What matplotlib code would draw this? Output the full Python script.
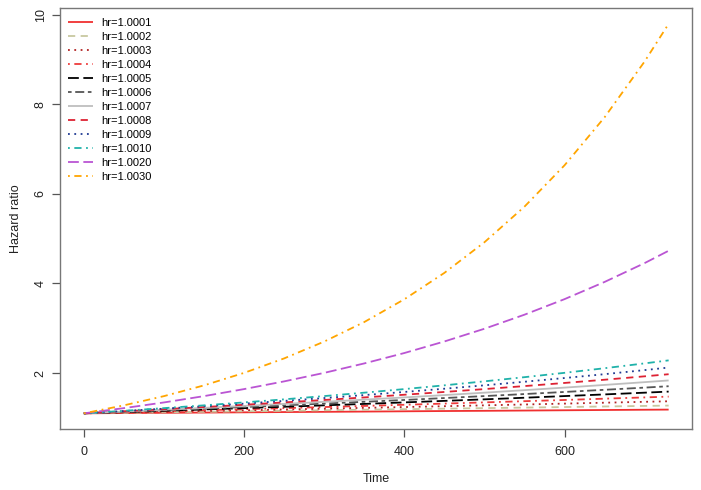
import matplotlib
matplotlib.use('Agg')
import matplotlib.pyplot as plt

# values, every 50 days
time = [0, 50, 100, 150, 200, 250, 300, 350, 400, 450, 500, 550, 600, 650, 700, 730]

hr_labels = ['hr=1.0001', 'hr=1.0002', 'hr=1.0003', 'hr=1.0004', 'hr=1.0005', 'hr=1.0006',
             'hr=1.0007', 'hr=1.0008', 'hr=1.0009', 'hr=1.0010', 'hr=1.0020', 'hr=1.0030']

hr_0001 = [1.100, 1.106, 1.111, 1.117, 1.122, 1.128, 1.133, 1.139, 1.145, 1.151, 1.156, 1.162, 1.168, 1.174, 1.180, 1.183]
hr_0002 = [1.100, 1.111, 1.122, 1.133, 1.145, 1.156, 1.168, 1.180, 1.192, 1.204, 1.216, 1.228, 1.240, 1.253, 1.265, 1.273]
hr_0003 = [1.100, 1.117, 1.133, 1.151, 1.168, 1.186, 1.204, 1.222, 1.240, 1.259, 1.278, 1.297, 1.317, 1.337, 1.357, 1.369]
hr_0004 = [1.100, 1.122, 1.145, 1.168, 1.192, 1.216, 1.240, 1.265, 1.291, 1.317, 1.344, 1.371, 1.398, 1.427, 1.455, 1.473]
hr_0005 = [1.100, 1.128, 1.156, 1.186, 1.216, 1.246, 1.278, 1.310, 1.344, 1.378, 1.412, 1.448, 1.485, 1.522, 1.561, 1.585]
hr_0006 = [1.100, 1.133, 1.168, 1.204, 1.240, 1.278, 1.317, 1.357, 1.398, 1.441, 1.485, 1.530, 1.577, 1.625, 1.674, 1.705]
hr_0007 = [1.100, 1.139, 1.180, 1.222, 1.265, 1.310, 1.357, 1.405, 1.455, 1.507, 1.561, 1.617, 1.674, 1.734, 1.796, 1.834]
hr_0008 = [1.100, 1.145, 1.192, 1.240, 1.291, 1.344, 1.398, 1.455, 1.515, 1.577, 1.641, 1.708, 1.778, 1.850, 1.926, 1.973]
hr_0009 = [1.100, 1.151, 1.204, 1.259, 1.317, 1.378, 1.441, 1.507, 1.577, 1.649, 1.725, 1.805, 1.888, 1.974, 2.065, 2.122]
hr_0010 = [1.100, 1.156, 1.216, 1.278, 1.344, 1.412, 1.485, 1.561, 1.641, 1.725, 1.814, 1.907, 2.004, 2.107, 2.215, 2.282]
hr_0020 = [1.100, 1.216, 1.343, 1.484, 1.641, 1.813, 2.003, 2.214, 2.446, 2.704, 2.988, 3.302, 3.649, 4.033, 4.454, 4.730]
hr_0030 = [1.100, 1.278, 1.484, 1.724, 2.003, 2.326, 2.702, 3.138, 3.646, 4.235, 4.919, 5.714, 6.637, 7.709, 8.955, 9.797]

series = [hr_0001, hr_0002, hr_0003, hr_0004, hr_0005, hr_0006,
          hr_0007, hr_0008, hr_0009, hr_0010, hr_0020, hr_0030]

colors = ['#F03030', '#C8C8A0', '#B22222', '#EE3B3B', '#000000', '#555555',
          '#BEBEBE', '#DD2233', '#1F3A93', '#20B2AA', '#BA55D3', '#FFA500']

solid = (0, ())
dashed = (0, (4, 3))
dotted = (0, (1, 2.5))
dotdash = (0, (1, 2.5, 4, 2.5))
longdash = (0, (6, 2.5))
twodash = (0, (2, 2, 5, 2))
styles = [solid, dashed, dotted, dotdash, longdash, twodash,
          solid, dashed, dotted, dotdash, longdash, dotdash]

plt.rcParams['font.family'] = ['Liberation Sans', 'DejaVu Sans']

fig = plt.figure(figsize=(7.01, 4.9), dpi=100)
ax = fig.add_axes([0.0863, 0.1245, 0.9872 - 0.0863, 0.9837 - 0.1245])

for vals, col, ls, lab in zip(series, colors, styles, hr_labels):
    ax.plot(time, vals, color=col, linestyle=ls, linewidth=1.3, label=lab)

ax.set_xlim(-29.2, 759.2)
ax.set_ylim(0.75, 10.15)
ax.set_xticks([0, 200, 400, 600])
ax.set_yticks([2, 4, 6, 8, 10])
ax.set_yticklabels(['2', '4', '6', '8', '10'], rotation=90, va='center')

for sp in ax.spines.values():
    sp.set_color('#777777')
    sp.set_linewidth(1.0)
ax.tick_params(direction='out', length=6, width=0.9, color='#555555',
               labelsize=9, labelcolor='#222222')
ax.tick_params(axis='x', pad=6)
ax.tick_params(axis='y', pad=4)

ax.set_xlabel('Time', fontsize=9, color='#222222', labelpad=11)
ax.set_ylabel('Hazard ratio', fontsize=9, color='#222222', labelpad=9)

ax.legend(loc='upper left', bbox_to_anchor=(0.0, 0.995), frameon=False, fontsize=8,
          handlelength=2.2, handletextpad=0.8, labelspacing=0.36, borderaxespad=0.3)

fig.savefig('out.png', dpi=100)
